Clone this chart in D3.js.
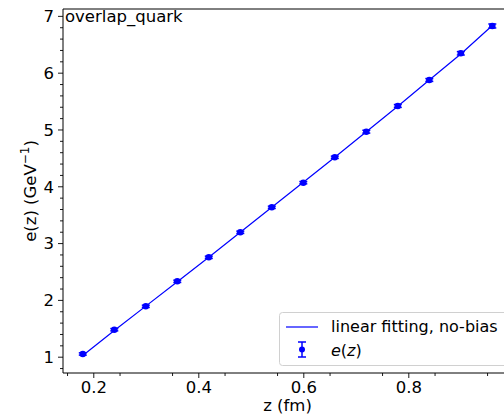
<!DOCTYPE html>
<html><head><meta charset="utf-8">
<script src="https://cdn.jsdelivr.net/npm/d3@7"></script>
<style>body{margin:0;background:#fff}svg{display:block}text{font-family:"DejaVu Sans",sans-serif}</style>
</head><body><svg id="c" width="504" height="417"></svg>
<script>
const zValues = [0.18,0.24,0.30,0.36,0.42,0.48,0.54,0.60,0.66,0.72,0.78,0.84,0.90,0.96];
const eValues = [1.048,1.475,1.887,2.327,2.750,3.190,3.630,4.063,4.511,4.961,5.414,5.871,6.341,6.822];
const eErrors = [0.02,0.02,0.02,0.02,0.02,0.02,0.02,0.02,0.02,0.025,0.025,0.025,0.03,0.035];
const fitValues = [1.02,1.46,1.89,2.32,2.75,3.19,3.63,4.07,4.51,4.96,5.41,5.87,6.33,6.83];
const xTicks = [0.2,0.4,0.6,0.8];
const yTicks = [1,2,3,4,5,6,7];

const svg = d3.select("#c");
const L=63, T=9, B=373, R=513;
const FS = 16.5;
const x = d3.scaleLinear().domain([0.1423,0.9994]).range([L,R]);
const y = d3.scaleLinear().domain([0.713,7.121]).range([B,T]);
const blue = "#0000ff";

// fit line
svg.append("path").datum(zValues.map((z,i)=>[z,fitValues[i]]))
  .attr("d", d3.line().x(d=>x(d[0])).y(d=>y(d[1])))
  .attr("fill","none").attr("stroke",blue).attr("stroke-width",1.2);

// error bars & points
const g = svg.append("g");
zValues.forEach((z,i)=>{
  const cx=x(z), v=eValues[i], e=eErrors[i];
  g.append("line").attr("x1",cx).attr("x2",cx).attr("y1",y(v-e)).attr("y2",y(v+e)).attr("stroke",blue).attr("stroke-width",1.5);
  [v-e,v+e].forEach(w=>g.append("line").attr("x1",cx-4).attr("x2",cx+4).attr("y1",y(w)).attr("y2",y(w)).attr("stroke",blue).attr("stroke-width",1.5));
  g.append("circle").attr("cx",cx).attr("cy",y(v)).attr("r",3.3).attr("fill",blue);
});

// axes
const xa = svg.append("g").attr("transform",`translate(0,${B})`)
  .call(d3.axisBottom(x).tickValues(xTicks).tickSize(5).tickPadding(3).tickFormat(d3.format(".1f")));
const xm = svg.append("g").attr("transform",`translate(0,${B})`)
  .call(d3.axisBottom(x).tickValues(d3.range(0.15,1.0,0.05).filter(v=>Math.abs(v*10-Math.round(v*10))>0.01)).tickSize(3).tickFormat(""));
const ya = svg.append("g").attr("transform",`translate(${L},0)`)
  .call(d3.axisLeft(y).tickValues(yTicks).tickSize(5).tickPadding(4).tickFormat(d3.format("d")));
const ym = svg.append("g").attr("transform",`translate(${L},0)`)
  .call(d3.axisLeft(y).tickValues(d3.range(0.8,7.1,0.2).filter(v=>Math.abs(v-Math.round(v))>0.01)).tickSize(3).tickFormat(""));
[xa,xm,ya,ym].forEach(a=>{a.select(".domain").remove(); a.selectAll("line").attr("stroke","#000").attr("stroke-width",0.9);});
[xa,ya].forEach(a=>a.selectAll("text").attr("font-size",FS).attr("fill","#000").attr("font-family","DejaVu Sans"));
ya.selectAll("text").attr("dy","0.35em");

// spines
svg.append("line").attr("x1",L).attr("x2",L).attr("y1",T).attr("y2",B).attr("stroke","#000").attr("stroke-width",1);
svg.append("line").attr("x1",L).attr("x2",504).attr("y1",B).attr("y2",B).attr("stroke","#000").attr("stroke-width",1);
svg.append("line").attr("x1",L).attr("x2",504).attr("y1",T).attr("y2",T).attr("stroke","#000").attr("stroke-width",1);

// labels
svg.append("text").attr("x",287.5).attr("y",411).attr("text-anchor","middle").attr("font-size",FS).text("z (fm)");
const yl = svg.append("text").attr("transform",`translate(36,${(T+B)/2}) rotate(-90)`).attr("text-anchor","middle").attr("font-size",FS);
yl.append("tspan").text("e(z) (GeV");
yl.append("tspan").attr("font-size",12).attr("dy",-7).text("\u22121");
yl.append("tspan").attr("dy",7).text(")");
svg.append("text").attr("x",65).attr("y",22).attr("font-size",FS).text("overlap_quark");

// legend
const lg = svg.append("g");
lg.append("rect").attr("x",279.5).attr("y",312.5).attr("width",240).attr("height",53).attr("rx",3)
  .attr("fill","#fff").attr("fill-opacity",0.8).attr("stroke","#d0d0d0");
lg.append("line").attr("x1",286).attr("x2",318).attr("y1",327).attr("y2",327).attr("stroke",blue).attr("stroke-width",1.2);
lg.append("text").attr("x",331).attr("y",332).attr("font-size",16).text("linear fitting, no-bias");
lg.append("line").attr("x1",302).attr("x2",302).attr("y1",342).attr("y2",357).attr("stroke",blue).attr("stroke-width",1.5);
[342,357].forEach(v=>lg.append("line").attr("x1",298).attr("x2",306).attr("y1",v).attr("y2",v).attr("stroke",blue).attr("stroke-width",1.5));
lg.append("circle").attr("cx",302).attr("cy",349.5).attr("r",3).attr("fill",blue);
const et = lg.append("text").attr("x",331).attr("y",356).attr("font-size",16);
et.append("tspan").attr("font-style","italic").text("e");
et.append("tspan").text("(");
et.append("tspan").attr("font-style","italic").text("z");
et.append("tspan").text(")");
</script></body></html>
